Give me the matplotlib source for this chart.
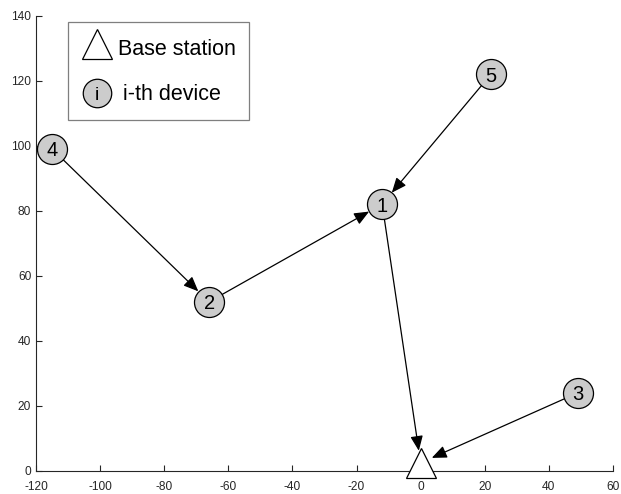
import matplotlib
matplotlib.use("Agg")
import matplotlib.pyplot as plt
from matplotlib.patches import Rectangle

plt.rcParams['font.family'] = ['Liberation Sans', 'DejaVu Sans']
plt.rcParams['axes.unicode_minus'] = False

# Device positions (metres) and their labels
device_ids = ["1", "2", "3", "4", "5"]
device_x = [-12, -66, 49, -115, 22]
device_y = [82, 52, 24, 99, 122]

# Base station position
bs_x = 0
bs_y = 2.5

# Routing links: (source, destination); "BS" is the base station
links = [("4", "2"), ("2", "1"), ("5", "1"), ("1", "BS"), ("3", "BS")]

x_ticks = [-120, -100, -80, -60, -40, -20, 0, 20, 40, 60]
y_ticks = [0, 20, 40, 60, 80, 100, 120, 140]

fig = plt.figure(figsize=(6.21, 4.94), dpi=100)
ax = fig.add_axes([0.058, 0.0466, 0.929, 0.922])

pos = {d: (x, y) for d, x, y in zip(device_ids, device_x, device_y)}
pos["BS"] = (bs_x, bs_y)

node_ms = 21.6  # marker size in points
for src, dst in links:
    shrink_b = 8.8 if dst == "BS" else node_ms / 2
    ax.annotate("", xy=pos[dst], xytext=pos[src],
                arrowprops=dict(arrowstyle="-|>,head_length=0.9,head_width=0.38",
                                color="black", lw=0.9, mutation_scale=10,
                                shrinkA=node_ms / 2, shrinkB=shrink_b),
                zorder=2)

ax.plot(device_x, device_y, linestyle="none", marker="o", markersize=node_ms,
        markerfacecolor="#cccccc", markeredgecolor="black", markeredgewidth=0.9,
        zorder=3, clip_on=False)
for d, x, y in zip(device_ids, device_x, device_y):
    ax.text(x, y, d, ha="center", va="center_baseline", fontsize=14.5,
            color="black", zorder=4)

ax.plot([bs_x], [bs_y], linestyle="none", marker="^", markersize=21.6,
        markerfacecolor="white", markeredgecolor="black", markeredgewidth=0.9,
        zorder=3, clip_on=False)

ax.set_xlim(-120, 60)
ax.set_ylim(0, 140)
ax.set_xticks(x_ticks)
ax.set_yticks(y_ticks)
ax.spines["top"].set_visible(False)
ax.spines["right"].set_visible(False)
for s in ("left", "bottom"):
    ax.spines[s].set_color("#262626")
    ax.spines[s].set_linewidth(0.8)
ax.tick_params(direction="in", length=4.2, width=0.8, color="#262626",
               labelsize=8.6, labelcolor="#262626")
ax.tick_params(axis="x", pad=7)
ax.tick_params(axis="y", pad=3.5)

# Legend box
tr = ax.transAxes
ax.add_patch(Rectangle((0.0563, 0.771), 0.3123, 0.214, transform=tr,
                       facecolor="white", edgecolor="#7f7f7f", lw=0.9, zorder=5))
ax.plot([0.1052], [0.9379], transform=tr, marker="^", markersize=21.6,
        markerfacecolor="white", markeredgecolor="black", markeredgewidth=0.9,
        linestyle="none", zorder=6)
ax.text(0.1416, 0.9133, "Base station", transform=tr, ha="left",
        va="baseline", fontsize=15.5, color="black", zorder=6)
ax.plot([0.1052], [0.8305], transform=tr, marker="o", markersize=20.5,
        markerfacecolor="#cccccc", markeredgecolor="black", markeredgewidth=0.9,
        linestyle="none", zorder=6)
ax.text(0.1052, 0.8145, "i", transform=tr, ha="center", va="baseline",
        fontsize=14, color="black", zorder=7)
ax.text(0.1513, 0.8145, "i-th device", transform=tr, ha="left",
        va="baseline", fontsize=15.5, color="black", zorder=6)

fig.savefig("out.png", dpi=100)
